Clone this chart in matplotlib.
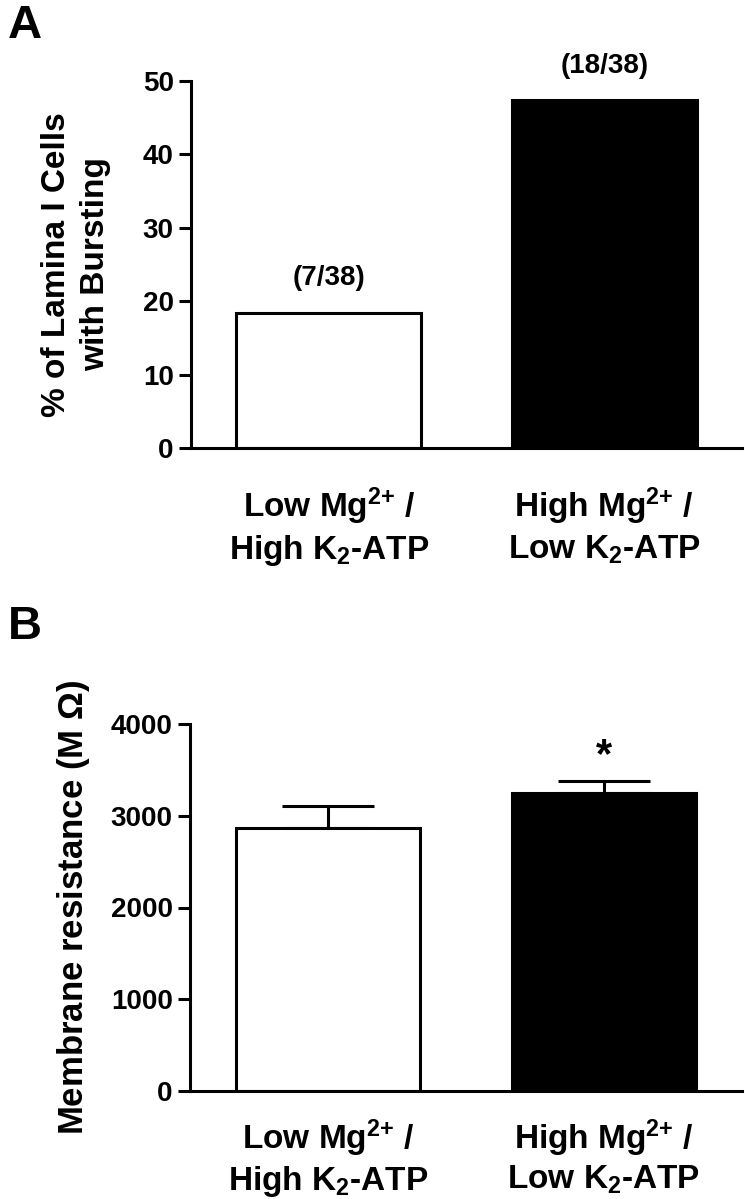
import matplotlib
matplotlib.use("Agg")
import matplotlib.pyplot as plt

plt.rcParams['font.family'] = ['Liberation Sans', 'DejaVu Sans']
plt.rcParams['font.weight'] = 'bold'
plt.rcParams['mathtext.fontset'] = 'custom'
plt.rcParams['mathtext.rm'] = 'Liberation Sans:bold'
plt.rcParams['mathtext.bf'] = 'Liberation Sans:bold'
plt.rcParams['mathtext.it'] = 'Liberation Sans:bold'
plt.rcParams['mathtext.default'] = 'rm'

categories = ['Low Mg$^{2{+}}$ /\nHigh K$_2$-ATP', 'High Mg$^{2{+}}$ /\nLow K$_2$-ATP']
bursting_pct = [18.42, 47.37]
bursting_counts = ['(7/38)', '(18/38)']
resistance_mean = [2868, 3248]
resistance_sem = [240, 128]
significance = ['', '*']
bar_colors = ['white', 'black']

W, H = 745, 1199
fig = plt.figure(figsize=(W / 100, H / 100), dpi=100)

def px_axes(left, right, top, bottom):
    return fig.add_axes([left / W, 1 - bottom / H, (right - left) / W, (bottom - top) / H])

def style(ax, yticks):
    for s in ['top', 'right']:
        ax.spines[s].set_visible(False)
    for s in ['left', 'bottom']:
        ax.spines[s].set_linewidth(2.2)
    ax.set_xlim(-0.5, 1.5)
    ax.set_yticks(yticks)
    ax.tick_params(axis='y', length=8.5, width=2.2, labelsize=20, pad=4)
    ax.tick_params(axis='x', length=0, labelsize=24, pad=27)
    for lab in ax.get_xticklabels() + ax.get_yticklabels():
        lab.set_fontweight('bold')

x = [0, 1]

# Panel A
axA = px_axes(191, 742, 81, 448)
axA.bar(x, bursting_pct, width=0.67, color=bar_colors, edgecolor='black', linewidth=2.2)
axA.set_ylim(0, 50)
axA.set_xticks(x)
axA.set_xticklabels(categories, linespacing=1.25)
style(axA, [0, 10, 20, 30, 40, 50])
for xi, v, t in zip(x, bursting_pct, bursting_counts):
    axA.annotate(t, (xi, v), xytext=(0, 25), textcoords='offset points',
                 ha='center', va='center', fontsize=20, fontweight='bold')
fig.text(76 / W, 1 - 264.5 / H, '% of Lamina I Cells\nwith Bursting', rotation=90,
         ha='center', va='center', fontsize=24, fontweight='bold', linespacing=1.3)
fig.text(8 / W, 1 - 4 / H, 'A', ha='left', va='top', fontsize=34, fontweight='bold')

# Panel B
axB = px_axes(190, 742, 724, 1091)
axB.bar(x, resistance_mean, width=0.67, color=bar_colors, edgecolor='black', linewidth=2.2,
        zorder=2)
axB.errorbar(x, resistance_mean, yerr=[[0, 0], resistance_sem], fmt='none', ecolor='black',
             elinewidth=2.2, capsize=33, capthick=2.2, zorder=1)
axB.set_ylim(0, 4000)
axB.set_xticks(x)
axB.set_xticklabels(categories, linespacing=1.18)
style(axB, [0, 1000, 2000, 3000, 4000])
axB.tick_params(axis='x', pad=19)
for xi, m, s, t in zip(x, resistance_mean, resistance_sem, significance):
    if t:
        axB.annotate(t, (xi, m + s), xytext=(0, 18), textcoords='offset points',
                     ha='center', va='center', fontsize=30, fontweight='bold')
fig.text(74 / W, 1 - 908 / H, 'Membrane resistance (M $\\Omega$)', rotation=90,
         ha='center', va='center', fontsize=25, fontweight='bold')
fig.text(8 / W, 1 - 605 / H, 'B', ha='left', va='top', fontsize=34, fontweight='bold')

fig.savefig('out.png', dpi=100)
